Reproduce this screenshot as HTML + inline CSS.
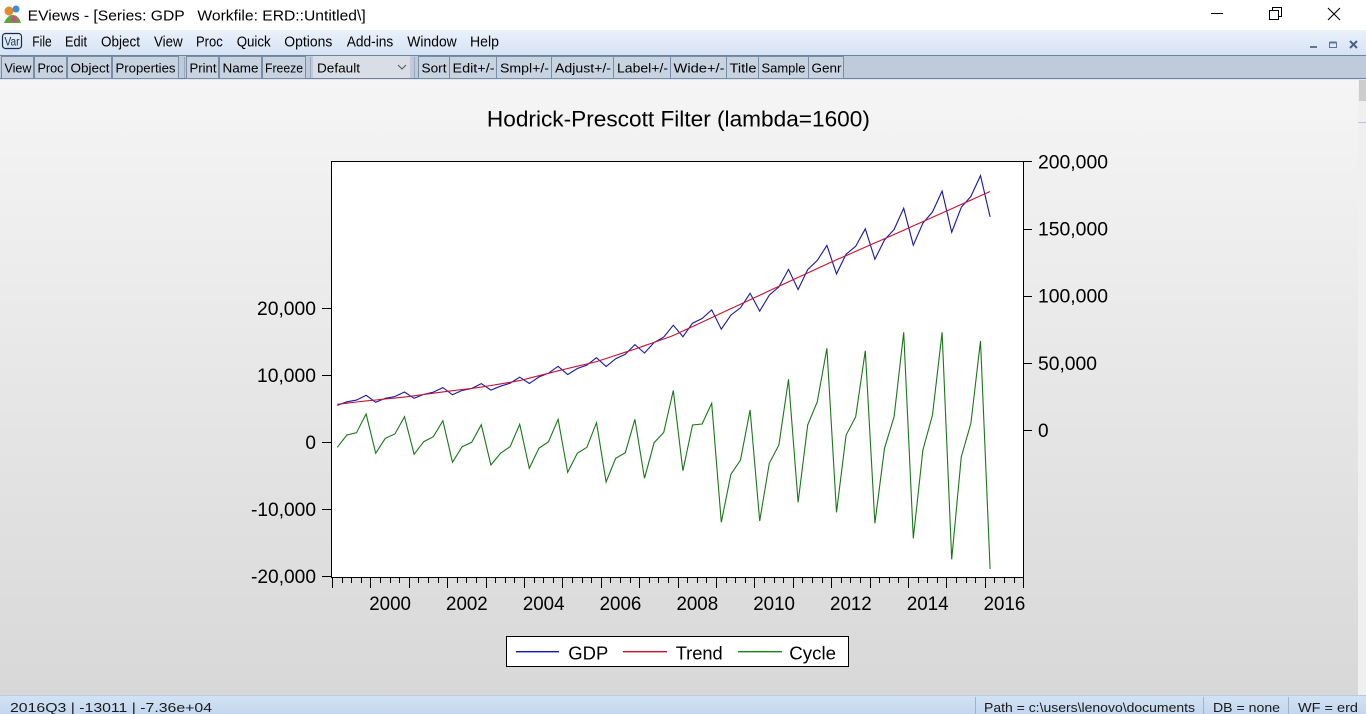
<!DOCTYPE html>
<html><head><meta charset="utf-8"><style>
html,body{margin:0;padding:0;width:1366px;height:714px;overflow:hidden;background:#fff}
svg{display:block}
text{font-family:"Liberation Sans",Arial,sans-serif}
</style></head><body>
<svg width="1366" height="714" viewBox="0 0 1366 714" xmlns="http://www.w3.org/2000/svg">
<defs>
<linearGradient id="bg" x1="0" y1="0" x2="0" y2="1"><stop offset="0" stop-color="#f5f5f5"/><stop offset="1" stop-color="#d8d8d8"/></linearGradient>
<linearGradient id="mb" x1="0" y1="0" x2="0" y2="1"><stop offset="0" stop-color="#eaf1fb"/><stop offset="1" stop-color="#d6e3f4"/></linearGradient>
<linearGradient id="sb" x1="0" y1="0" x2="0" y2="1"><stop offset="0" stop-color="#d3e3f5"/><stop offset="1" stop-color="#c3d7ee"/></linearGradient>
</defs>
<!-- title bar -->
<rect x="0" y="0" width="1366" height="30" fill="#ffffff"/>
<circle cx="9" cy="11" r="4.5" fill="#e8892a"/>
<circle cx="16" cy="9" r="3.5" fill="#3a8fd6"/>
<path d="M4 23 Q8 14 14 15 Q19 16 21 23 Z" fill="#5aa83a"/>
<circle cx="14" cy="19" r="3" fill="#d44a8a"/>
<text x="27.7" y="20.5" font-size="15" fill="#000" textLength="338" lengthAdjust="spacingAndGlyphs" style="white-space:pre">EViews - [Series: GDP   Workfile: ERD::Untitled\]</text>
<line x1="1211" y1="13.5" x2="1223" y2="13.5" stroke="#000" stroke-width="1"/>
<rect x="1269.5" y="10.5" width="9" height="9" fill="none" stroke="#000"/>
<path d="M1272.5 10.5 V7.5 H1281.5 V16.5 H1278.5" fill="none" stroke="#000"/>
<path d="M1328 8 L1340 20 M1340 8 L1328 20" stroke="#000" stroke-width="1.1"/>
<!-- menu bar -->
<rect x="0" y="30" width="1366" height="25" fill="url(#mb)"/>
<rect x="2.5" y="33.5" width="19" height="15" rx="3" fill="none" stroke="#1a2a50" stroke-width="1.2"/>
<text x="4.5" y="45.5" font-size="12" fill="#1a2a50" textLength="15" lengthAdjust="spacingAndGlyphs">Var</text>
<g font-size="14.5" fill="#000">
<text x="32.3" y="46.5" textLength="19.4" lengthAdjust="spacingAndGlyphs">File</text>
<text x="65" y="46.5" textLength="22" lengthAdjust="spacingAndGlyphs">Edit</text>
<text x="101" y="46.5" textLength="39" lengthAdjust="spacingAndGlyphs">Object</text>
<text x="154" y="46.5" textLength="28.7" lengthAdjust="spacingAndGlyphs">View</text>
<text x="196" y="46.5" textLength="26.7" lengthAdjust="spacingAndGlyphs">Proc</text>
<text x="236.7" y="46.5" textLength="34" lengthAdjust="spacingAndGlyphs">Quick</text>
<text x="284.3" y="46.5" textLength="48" lengthAdjust="spacingAndGlyphs">Options</text>
<text x="346.7" y="46.5" textLength="46.6" lengthAdjust="spacingAndGlyphs">Add-ins</text>
<text x="407.3" y="46.5" textLength="49.4" lengthAdjust="spacingAndGlyphs">Window</text>
<text x="470" y="46.5" textLength="29" lengthAdjust="spacingAndGlyphs">Help</text>
</g>
<rect x="1310" y="46" width="7" height="2" fill="#5f7594"/>
<rect x="1329.5" y="42.5" width="7" height="5" fill="none" stroke="#5f7594"/>
<rect x="1329.5" y="41.5" width="7" height="2" fill="#5f7594"/>
<path d="M1350 41 L1357 48 M1357 41 L1350 48" stroke="#4a6385" stroke-width="2"/>
<!-- toolbar -->
<rect x="0" y="55" width="1366" height="25" fill="#bfcbda"/>
<line x1="0" y1="55.5" x2="1366" y2="55.5" stroke="#6f819b"/>
<line x1="0" y1="78.5" x2="1366" y2="78.5" stroke="#6f819b"/>
<line x1="0" y1="79.5" x2="1366" y2="79.5" stroke="#dfe5ee"/>
<g fill="#c8d3e1" stroke="#7b8ca5">
<rect x="1.5" y="56.5" width="32" height="22"/>
<rect x="34.5" y="56.5" width="32" height="22"/>
<rect x="67.5" y="56.5" width="44" height="22"/>
<rect x="112.5" y="56.5" width="66" height="22"/>
<rect x="186.5" y="56.5" width="32" height="22"/>
<rect x="219.5" y="56.5" width="42" height="22"/>
<rect x="262.5" y="56.5" width="43" height="22"/>
<rect x="418.5" y="56.5" width="31" height="22"/>
<rect x="449.5" y="56.5" width="47" height="22"/>
<rect x="496.5" y="56.5" width="55" height="22"/>
<rect x="551.5" y="56.5" width="62" height="22"/>
<rect x="613.5" y="56.5" width="57" height="22"/>
<rect x="670.5" y="56.5" width="56" height="22"/>
<rect x="726.5" y="56.5" width="32" height="22"/>
<rect x="758.5" y="56.5" width="50" height="22"/>
<rect x="808.5" y="56.5" width="35" height="22"/>
</g>
<rect x="313" y="56" width="97" height="22" fill="#d9dee6"/>
<line x1="184.5" y1="57" x2="184.5" y2="78" stroke="#9aa9bd"/>
<line x1="310.5" y1="57" x2="310.5" y2="78" stroke="#9aa9bd"/>
<line x1="414.5" y1="57" x2="414.5" y2="78" stroke="#9aa9bd"/>
<path d="M398 65 L402 69 L406 65" fill="none" stroke="#555" stroke-width="1"/>
<g font-size="13.2" fill="#000">
<text x="4.5" y="72.5" textLength="27" lengthAdjust="spacingAndGlyphs">View</text>
<text x="37.5" y="72.5" textLength="26" lengthAdjust="spacingAndGlyphs">Proc</text>
<text x="70.5" y="72.5" textLength="39" lengthAdjust="spacingAndGlyphs">Object</text>
<text x="115.5" y="72.5" textLength="60" lengthAdjust="spacingAndGlyphs">Properties</text>
<text x="189.5" y="72.5" textLength="27" lengthAdjust="spacingAndGlyphs">Print</text>
<text x="222.5" y="72.5" textLength="36" lengthAdjust="spacingAndGlyphs">Name</text>
<text x="265" y="72.5" textLength="38" lengthAdjust="spacingAndGlyphs">Freeze</text>
<text x="317" y="72.5" textLength="43" lengthAdjust="spacingAndGlyphs">Default</text>
<text x="421.5" y="72.5" textLength="25" lengthAdjust="spacingAndGlyphs">Sort</text>
<text x="452.5" y="72.5" textLength="42" lengthAdjust="spacingAndGlyphs">Edit+/-</text>
<text x="500" y="72.5" textLength="49" lengthAdjust="spacingAndGlyphs">Smpl+/-</text>
<text x="555" y="72.5" textLength="56" lengthAdjust="spacingAndGlyphs">Adjust+/-</text>
<text x="617" y="72.5" textLength="51" lengthAdjust="spacingAndGlyphs">Label+/-</text>
<text x="673.5" y="72.5" textLength="51" lengthAdjust="spacingAndGlyphs">Wide+/-</text>
<text x="729.5" y="72.5" textLength="27" lengthAdjust="spacingAndGlyphs">Title</text>
<text x="761.5" y="72.5" textLength="44" lengthAdjust="spacingAndGlyphs">Sample</text>
<text x="811.5" y="72.5" textLength="30" lengthAdjust="spacingAndGlyphs">Genr</text>
</g>
<!-- main area -->
<rect x="0" y="80" width="1366" height="615" fill="url(#bg)"/>
<rect x="1358" y="80" width="8" height="615" fill="#f0f0f0"/>
<rect x="1359" y="80" width="7" height="21" fill="#cdcdcd"/>
<line x1="1358" y1="122.5" x2="1366" y2="122.5" stroke="#b9c9dc"/>
<!-- chart title -->
<text x="678.4" y="126.5" font-size="22.6" fill="#000" text-anchor="middle" textLength="383" lengthAdjust="spacingAndGlyphs">Hodrick-Prescott Filter (lambda=1600)</text>
<!-- plot area -->
<rect x="331.5" y="161.5" width="692" height="416" fill="#ffffff" stroke="#000" stroke-width="1"/>
<!-- left ticks -->
<path d="M322 308.5H331.5M322 375.5H331.5M322 442.5H331.5M322 509.5H331.5M322 576.5H331.5" stroke="#000"/>
<!-- right ticks -->
<path d="M1023.5 161.5H1032M1023.5 229.5H1032M1023.5 296.5H1032M1023.5 363.5H1032M1023.5 430.5H1032" stroke="#000"/>
<!-- x ticks -->
<path stroke="#000" fill="none" d="M342.5 578v5M351.5 578v5M361.5 578v5M380.5 578v5M390.5 578v5M399.5 578v5M418.5 578v5M428.5 578v5M438.5 578v5M457.5 578v5M466.5 578v5M476.5 578v5M495.5 578v5M505.5 578v5M514.5 578v5M534.5 578v5M543.5 578v5M553.5 578v5M572.5 578v5M582.5 578v5M591.5 578v5M610.5 578v5M620.5 578v5M630.5 578v5M649.5 578v5M658.5 578v5M668.5 578v5M687.5 578v5M697.5 578v5M706.5 578v5M726.5 578v5M735.5 578v5M745.5 578v5M764.5 578v5M774.5 578v5M783.5 578v5M802.5 578v5M812.5 578v5M822.5 578v5M841.5 578v5M850.5 578v5M860.5 578v5M879.5 578v5M889.5 578v5M898.5 578v5M918.5 578v5M927.5 578v5M937.5 578v5M956.5 578v5M966.5 578v5M975.5 578v5M994.5 578v5M1004.5 578v5M1014.5 578v5
M332.5 578v10M370.5 578v10M409.5 578v10M447.5 578v10M486.5 578v10M524.5 578v10M562.5 578v10M601.5 578v10M639.5 578v10M678.5 578v10M716.5 578v10M754.5 578v10M793.5 578v10M831.5 578v10M870.5 578v10M908.5 578v10M946.5 578v10M985.5 578v10M1023.5 578v10"/>
<!-- left labels -->
<g font-size="19" fill="#000" text-anchor="end">
<text x="316" y="315" textLength="59" lengthAdjust="spacingAndGlyphs">20,000</text>
<text x="316" y="382" textLength="59" lengthAdjust="spacingAndGlyphs">10,000</text>
<text x="316" y="449">0</text>
<text x="316" y="516" textLength="65" lengthAdjust="spacingAndGlyphs">-10,000</text>
<text x="316" y="583" textLength="65" lengthAdjust="spacingAndGlyphs">-20,000</text>
</g>
<!-- right labels -->
<g font-size="19" fill="#000">
<text x="1038" y="168.5" textLength="70" lengthAdjust="spacingAndGlyphs">200,000</text>
<text x="1038" y="235.5" textLength="70" lengthAdjust="spacingAndGlyphs">150,000</text>
<text x="1038" y="302.5" textLength="70" lengthAdjust="spacingAndGlyphs">100,000</text>
<text x="1038" y="370" textLength="59" lengthAdjust="spacingAndGlyphs">50,000</text>
<text x="1038" y="437">0</text>
</g>
<!-- x labels -->
<g font-size="19" fill="#000" text-anchor="middle">
<text x="390.1" y="610" textLength="41.7" lengthAdjust="spacingAndGlyphs">2000</text>
<text x="466.9" y="610" textLength="41.7" lengthAdjust="spacingAndGlyphs">2002</text>
<text x="543.7" y="610" textLength="41.7" lengthAdjust="spacingAndGlyphs">2004</text>
<text x="620.5" y="610" textLength="41.7" lengthAdjust="spacingAndGlyphs">2006</text>
<text x="697.3" y="610" textLength="41.7" lengthAdjust="spacingAndGlyphs">2008</text>
<text x="774.1" y="610" textLength="41.7" lengthAdjust="spacingAndGlyphs">2010</text>
<text x="850.9" y="610" textLength="41.7" lengthAdjust="spacingAndGlyphs">2012</text>
<text x="927.7" y="610" textLength="41.7" lengthAdjust="spacingAndGlyphs">2014</text>
<text x="1004.5" y="610" textLength="41.7" lengthAdjust="spacingAndGlyphs">2016</text>
</g>
<!-- series -->
<polyline fill="none" stroke="#1616a8" stroke-width="1.1" stroke-linejoin="miter" points="337.3,405.4 346.9,401.8 356.5,400.1 366.1,395.3 375.7,402.3 385.3,398.3 394.9,396.5 404.5,392.0 414.1,398.3 423.7,394.4 433.3,392.1 442.9,387.6 452.5,394.8 462.1,390.4 471.7,388.5 481.3,383.6 490.9,390.1 500.5,386.2 510.1,383.2 519.7,377.1 529.3,383.5 538.9,377.0 548.5,373.2 558.1,366.3 567.7,374.6 577.3,368.5 586.9,365.1 596.5,357.7 606.1,366.5 615.7,358.7 625.3,354.3 634.9,344.6 644.5,353.0 654.1,342.5 663.7,337.1 673.3,325.2 682.9,336.7 692.5,323.2 702.1,318.5 711.7,309.9 721.3,329.2 730.9,315.1 740.5,307.8 750.1,293.3 759.7,311.1 769.3,295.1 778.9,286.9 788.5,269.4 798.1,289.5 807.7,269.6 817.3,260.4 826.9,245.4 836.5,273.9 846.1,254.2 855.7,246.3 865.3,228.8 874.9,259.2 884.5,240.0 894.1,229.4 903.7,208.3 913.3,245.2 922.9,223.2 932.5,211.9 942.1,191.1 951.7,232.2 961.3,207.3 970.9,196.4 980.5,175.6 990.1,216.9"/>
<polyline fill="none" stroke="#c81030" stroke-width="1.1" points="337.3,404.3 346.9,403.2 356.5,402.0 366.1,400.9 375.7,400.0 385.3,399.0 394.9,398.1 404.5,397.1 414.1,395.8 423.7,394.5 433.3,393.2 442.9,391.9 452.5,390.7 462.1,389.5 471.7,388.4 481.3,387.1 490.9,385.5 500.5,383.9 510.1,382.3 519.7,380.6 529.3,378.2 538.9,375.7 548.5,373.3 558.1,370.8 567.7,368.5 577.3,366.2 586.9,364.0 596.5,361.6 606.1,358.5 615.7,355.4 625.3,352.2 634.9,349.1 644.5,345.7 654.1,342.4 663.7,339.0 673.3,335.5 682.9,331.0 692.5,326.6 702.1,322.1 711.7,317.6 721.3,313.1 730.9,308.6 740.5,304.2 750.1,299.7 759.7,295.3 769.3,290.8 778.9,286.3 788.5,281.9 798.1,277.4 807.7,273.0 817.3,268.5 826.9,264.1 836.5,259.8 846.1,255.6 855.7,251.4 865.3,247.1 874.9,242.9 884.5,238.7 894.1,234.5 903.7,230.2 913.3,225.9 922.9,221.6 932.5,217.3 942.1,213.0 951.7,208.7 961.3,204.4 970.9,200.1 980.5,195.8 990.1,191.5"/>
<polyline fill="none" stroke="#187818" stroke-width="1.1" points="337.3,447.3 346.9,435 356.5,432.7 366.1,414 375.7,453.3 385.3,438.3 394.9,434 404.5,416.7 414.1,454.3 423.7,441.7 433.3,436.7 442.9,420.7 452.5,462.3 462.1,446.7 471.7,442.3 481.3,424.7 490.9,465 500.5,453.3 510.1,446.7 519.7,424.3 529.3,468.3 538.9,448.3 548.5,441.7 558.1,419.3 567.7,472.3 577.3,453.3 586.9,447.3 596.5,422.7 606.1,482 615.7,458.3 625.3,452.7 634.9,419.3 644.5,478.3 654.1,442.7 663.7,432.5 673.3,390.5 682.9,470.7 692.5,425 702.1,424 711.7,403.3 721.3,522.3 730.9,474.3 740.5,460 750.1,410 759.7,521 769.3,463.3 778.9,445 788.5,379.3 798.1,502.3 807.7,425 817.3,401.7 826.9,348.3 836.5,512.3 846.1,435 855.7,416.7 865.3,350.7 874.9,523.3 884.5,448.3 894.1,416.7 903.7,332.3 913.3,538.3 922.9,450 932.5,415 942.1,332.3 951.7,559.3 961.3,456.7 970.9,423.3 980.5,341 990.1,569"/>
<!-- legend -->
<rect x="506.5" y="636.5" width="342" height="30" fill="#ffffff" stroke="#000"/>
<rect x="516" y="651" width="43" height="1.4" fill="#1616c0"/>
<rect x="623" y="651" width="44" height="1.4" fill="#d01030"/>
<rect x="738" y="651" width="44" height="1.4" fill="#188818"/>
<g font-size="18.5" fill="#000">
<text x="568.3" y="659.5" textLength="40" lengthAdjust="spacingAndGlyphs">GDP</text>
<text x="675.7" y="659.5" textLength="47" lengthAdjust="spacingAndGlyphs">Trend</text>
<text x="789.3" y="659.5" textLength="46.7" lengthAdjust="spacingAndGlyphs">Cycle</text>
</g>
<!-- status bar -->
<rect x="0" y="695" width="1366" height="19" fill="url(#sb)"/>
<line x1="0" y1="695.5" x2="1366" y2="695.5" stroke="#b8cce4"/>
<path d="M975.5 697V714M1203.5 697V714M1288.5 697V714" stroke="#9fb3cc"/>
<g font-size="13" fill="#1a1a1a">
<text x="10" y="712" textLength="202" lengthAdjust="spacingAndGlyphs">2016Q3 | -13011 | -7.36e+04</text>
<text x="984" y="712" textLength="211" lengthAdjust="spacingAndGlyphs">Path = c:\users\lenovo\documents</text>
<text x="1213" y="712" textLength="67" lengthAdjust="spacingAndGlyphs">DB = none</text>
<text x="1298" y="712" textLength="60" lengthAdjust="spacingAndGlyphs">WF = erd</text>
</g>
</svg>
</body></html>
